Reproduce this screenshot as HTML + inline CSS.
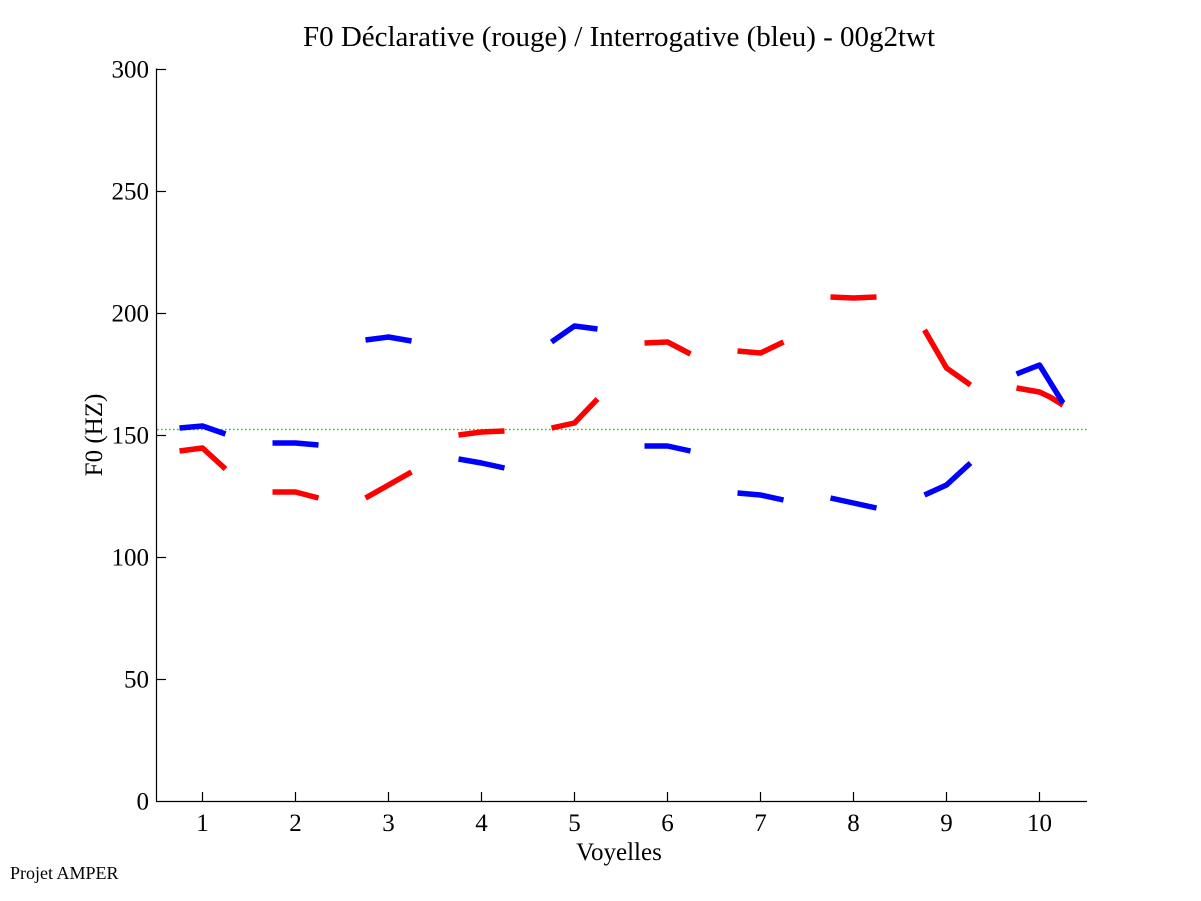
<!DOCTYPE html>
<html>
<head>
<meta charset="utf-8">
<style>
  html, body { margin:0; padding:0; background:#fff; }
  svg { display:block; }
  text { font-family: "Liberation Serif", "DejaVu Serif", serif; fill:#000; }
</style>
</head>
<body>
<svg width="1201" height="901" viewBox="0 0 1201 901" xmlns="http://www.w3.org/2000/svg">
  <rect x="0" y="0" width="1201" height="901" fill="#fff"/>

  <!-- title -->
  <text x="619" y="46" font-size="29" text-anchor="middle">F0 Déclarative (rouge) / Interrogative (bleu) - 00g2twt</text>

  <!-- green reference line -->
  <line x1="157" y1="429.5" x2="1087" y2="429.5" stroke="#22cc22" stroke-width="1.6" stroke-dasharray="1.6 2.4"/>

  <!-- axes -->
  <g stroke="#000" stroke-width="1.2" fill="none">
    <line x1="156.5" y1="68.5" x2="156.5" y2="802"/>
    <line x1="156" y1="801.5" x2="1087" y2="801.5"/>
    <!-- y ticks -->
    <line x1="156.5" y1="69.5" x2="166" y2="69.5"/>
    <line x1="156.5" y1="191.5" x2="166" y2="191.5"/>
    <line x1="156.5" y1="313.5" x2="166" y2="313.5"/>
    <line x1="156.5" y1="435.5" x2="166" y2="435.5"/>
    <line x1="156.5" y1="557.5" x2="166" y2="557.5"/>
    <line x1="156.5" y1="679.5" x2="166" y2="679.5"/>
    <!-- x ticks -->
    <line x1="202.5" y1="801.5" x2="202.5" y2="792"/>
    <line x1="295.5" y1="801.5" x2="295.5" y2="792"/>
    <line x1="388.5" y1="801.5" x2="388.5" y2="792"/>
    <line x1="481.5" y1="801.5" x2="481.5" y2="792"/>
    <line x1="574.5" y1="801.5" x2="574.5" y2="792"/>
    <line x1="667.5" y1="801.5" x2="667.5" y2="792"/>
    <line x1="760.5" y1="801.5" x2="760.5" y2="792"/>
    <line x1="853.5" y1="801.5" x2="853.5" y2="792"/>
    <line x1="946.5" y1="801.5" x2="946.5" y2="792"/>
    <line x1="1039.5" y1="801.5" x2="1039.5" y2="792"/>
  </g>

  <!-- y tick labels -->
  <g font-size="25" text-anchor="end">
    <text x="149" y="77.5">300</text>
    <text x="149" y="199.5">250</text>
    <text x="149" y="321.5">200</text>
    <text x="149" y="443.5">150</text>
    <text x="149" y="565.5">100</text>
    <text x="149" y="687.5">50</text>
    <text x="149" y="809.5">0</text>
  </g>

  <!-- x tick labels -->
  <g font-size="25" text-anchor="middle">
    <text x="202.5" y="831">1</text>
    <text x="295.5" y="831">2</text>
    <text x="388.5" y="831">3</text>
    <text x="481.5" y="831">4</text>
    <text x="574.5" y="831">5</text>
    <text x="667.5" y="831">6</text>
    <text x="760.5" y="831">7</text>
    <text x="853.5" y="831">8</text>
    <text x="946.5" y="831">9</text>
    <text x="1039.5" y="831">10</text>
  </g>

  <!-- axis labels -->
  <text x="619" y="860" font-size="25" text-anchor="middle">Voyelles</text>
  <text transform="translate(102,435) rotate(-90)" x="0" y="0" font-size="25" text-anchor="middle">F0 (HZ)</text>

  <!-- footer -->
  <text x="10" y="879" font-size="18">Projet AMPER</text>

  <!-- red series (declarative) -->
  <g stroke="#ff0000" stroke-width="5.5" fill="none" stroke-linejoin="round">
    <polyline points="179.5,451 202.5,448 225.5,469"/>
    <polyline points="272.5,492 295.5,492 318.5,498"/>
    <polyline points="365.5,498 388.5,485 411.5,472"/>
    <polyline points="458.5,435 481.5,432 504.5,431"/>
    <polyline points="551.5,428 574.5,423 597.5,399"/>
    <polyline points="644.5,343 667.5,342 690.5,354"/>
    <polyline points="737.5,351 760.5,353 783.5,342"/>
    <polyline points="830.5,297 853.5,298 876.5,297"/>
    <polyline points="924.5,330 946.5,368 970.5,385"/>
    <polyline points="1016.5,388 1039.5,392 1050,397 1063,405"/>
  </g>

  <!-- blue series (interrogative) -->
  <g stroke="#0000ff" stroke-width="5.5" fill="none" stroke-linejoin="round">
    <polyline points="179.5,428 202.5,426 225.5,434"/>
    <polyline points="272.5,443 295.5,443 318.5,445"/>
    <polyline points="365.5,340 388.5,337 411.5,341"/>
    <polyline points="458.5,459 481.5,463 504.5,468"/>
    <polyline points="551.5,342 574.5,326 597.5,329"/>
    <polyline points="644.5,446 667.5,446 690.5,451"/>
    <polyline points="737.5,493 760.5,495 783.5,500"/>
    <polyline points="830.5,498 853.5,503 876.5,508"/>
    <polyline points="924.5,495 946.5,485 970.5,463"/>
    <polyline points="1016.5,374 1039.5,365 1063,403"/>
  </g>
</svg>
</body>
</html>
